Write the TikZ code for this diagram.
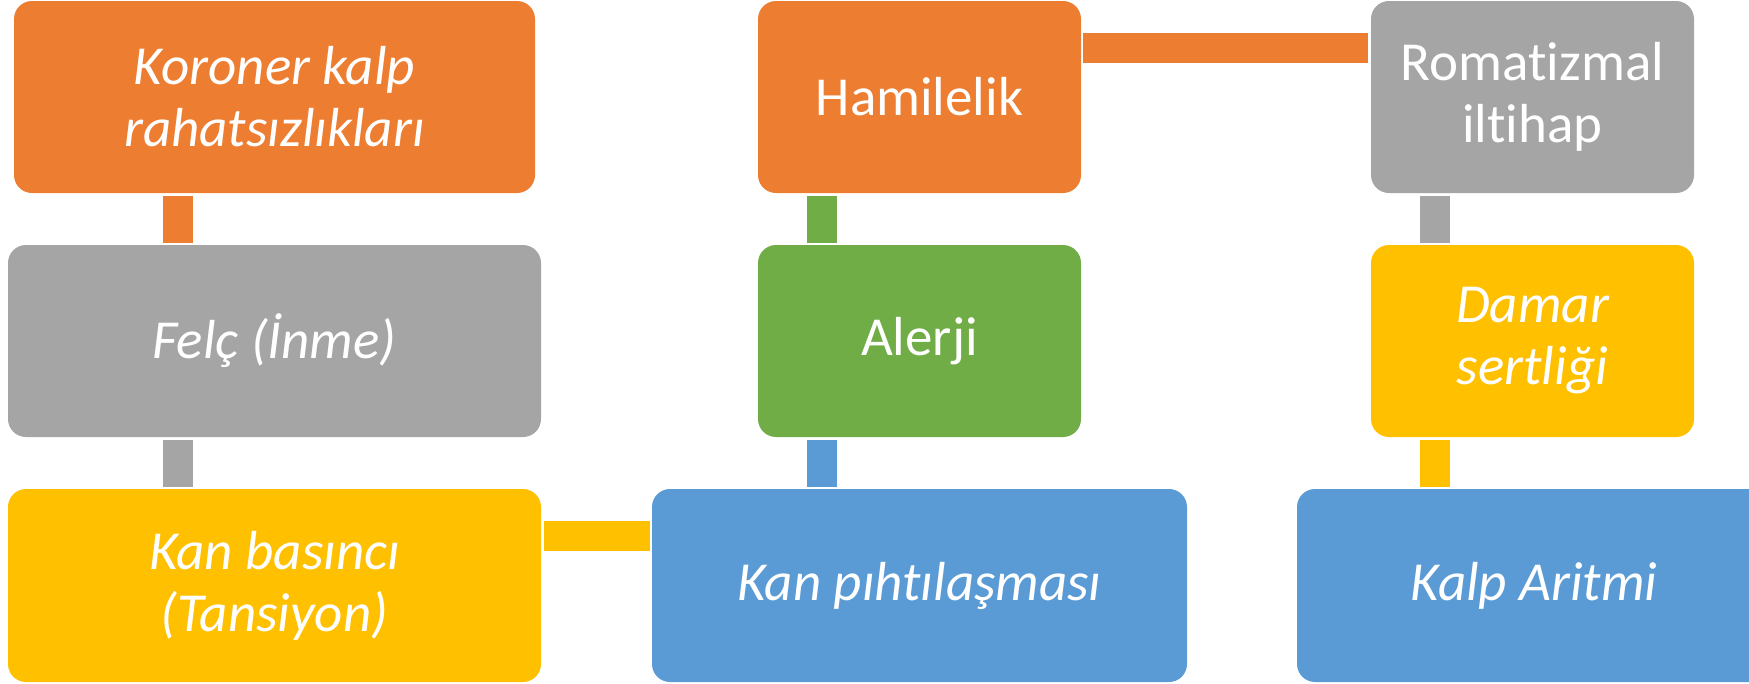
\documentclass[tikz,border=0pt]{standalone}
\usepackage{fontspec}
\setmainfont{Carlito}[Ligatures={NoCommon,NoContextual,NoRequired}]
\definecolor{corange}{HTML}{ED7D31}
\definecolor{cgray}{HTML}{A5A5A5}
\definecolor{cyellow}{HTML}{FFC000}
\definecolor{cgreen}{HTML}{70AD47}
\definecolor{cblue}{HTML}{5B9BD5}
\begin{document}
\begin{tikzpicture}[x=1pt,y=-1pt,
  box/.style={rectangle, rounded corners=18pt, inner sep=0pt, outer sep=0pt,
    text=white, align=center, font=\fontsize{55}{62}\selectfont},
  itbox/.style={box, font=\fontsize{55}{62}\selectfont\itshape},
  conn/.style={line width=30pt}]
\useasboundingbox (0,0) rectangle (1749,683);

% boxes
\node[itbox, fill=corange, minimum width=521pt, minimum height=192pt] (koroner) at (274.5,97) {Koroner kalp\\rahatsızlıkları};
\node[itbox, fill=cgray, minimum width=533pt, minimum height=192pt] (felc) at (274.5,341) {Felç (İnme)};
\node[itbox, fill=cyellow, minimum width=533pt, minimum height=193pt] (kanbas) at (274.5,585.5) {Kan basıncı\\(Tansiyon)};
\node[box, fill=corange, minimum width=323pt, minimum height=192pt] (hamile) at (919.5,97) {Hamilelik};
\node[box, fill=cgreen, minimum width=323pt, minimum height=192pt] (alerji) at (919.5,341) {Alerji};
\node[itbox, fill=cblue, minimum width=535pt, minimum height=193pt] (pihti) at (919.5,585.5) {Kan pıhtılaşması};
\node[box, fill=cgray, minimum width=323pt, minimum height=192pt] (romat) at (1532.5,97) {Romat\kern0pt izmal\\ilt\kern0pt ihap};
\node[itbox, fill=cyellow, minimum width=323pt, minimum height=192pt] (damar) at (1532.5,341) {Damar\\sertliği};
\node[itbox, fill=cblue, minimum width=474pt, minimum height=193pt] (kalp) at (1534,585.5) {Kalp Arit\kern0pt mi};

% connector guide coordinates
\coordinate (xa) at (178,0);
\coordinate (xb) at (822,0);
\coordinate (xc) at (1435,0);
\coordinate (ya) at (0,48);
\coordinate (yb) at (0,536);

% connectors
\draw[conn, draw=corange] ([yshift=-3pt]koroner.south -| xa) -- ([yshift=2pt]felc.north -| xa);
\draw[conn, draw=cgray] ([yshift=-3pt]felc.south -| xa) -- ([yshift=2pt]kanbas.north -| xa);
\draw[conn, draw=cyellow] ([xshift=3pt]kanbas.east |- yb) -- ([xshift=-2pt]pihti.west |- yb);
\draw[conn, draw=cgreen] ([yshift=-3pt]hamile.south -| xb) -- ([yshift=2pt]alerji.north -| xb);
\draw[conn, draw=cblue] ([yshift=-3pt]alerji.south -| xb) -- ([yshift=2pt]pihti.north -| xb);
\draw[conn, draw=corange] ([xshift=2pt]hamile.east |- ya) -- ([xshift=-3pt]romat.west |- ya);
\draw[conn, draw=cgray] ([yshift=-3pt]romat.south -| xc) -- ([yshift=2pt]damar.north -| xc);
\draw[conn, draw=cyellow] ([yshift=-3pt]damar.south -| xc) -- ([yshift=2pt]kalp.north -| xc);
\end{tikzpicture}
\end{document}
